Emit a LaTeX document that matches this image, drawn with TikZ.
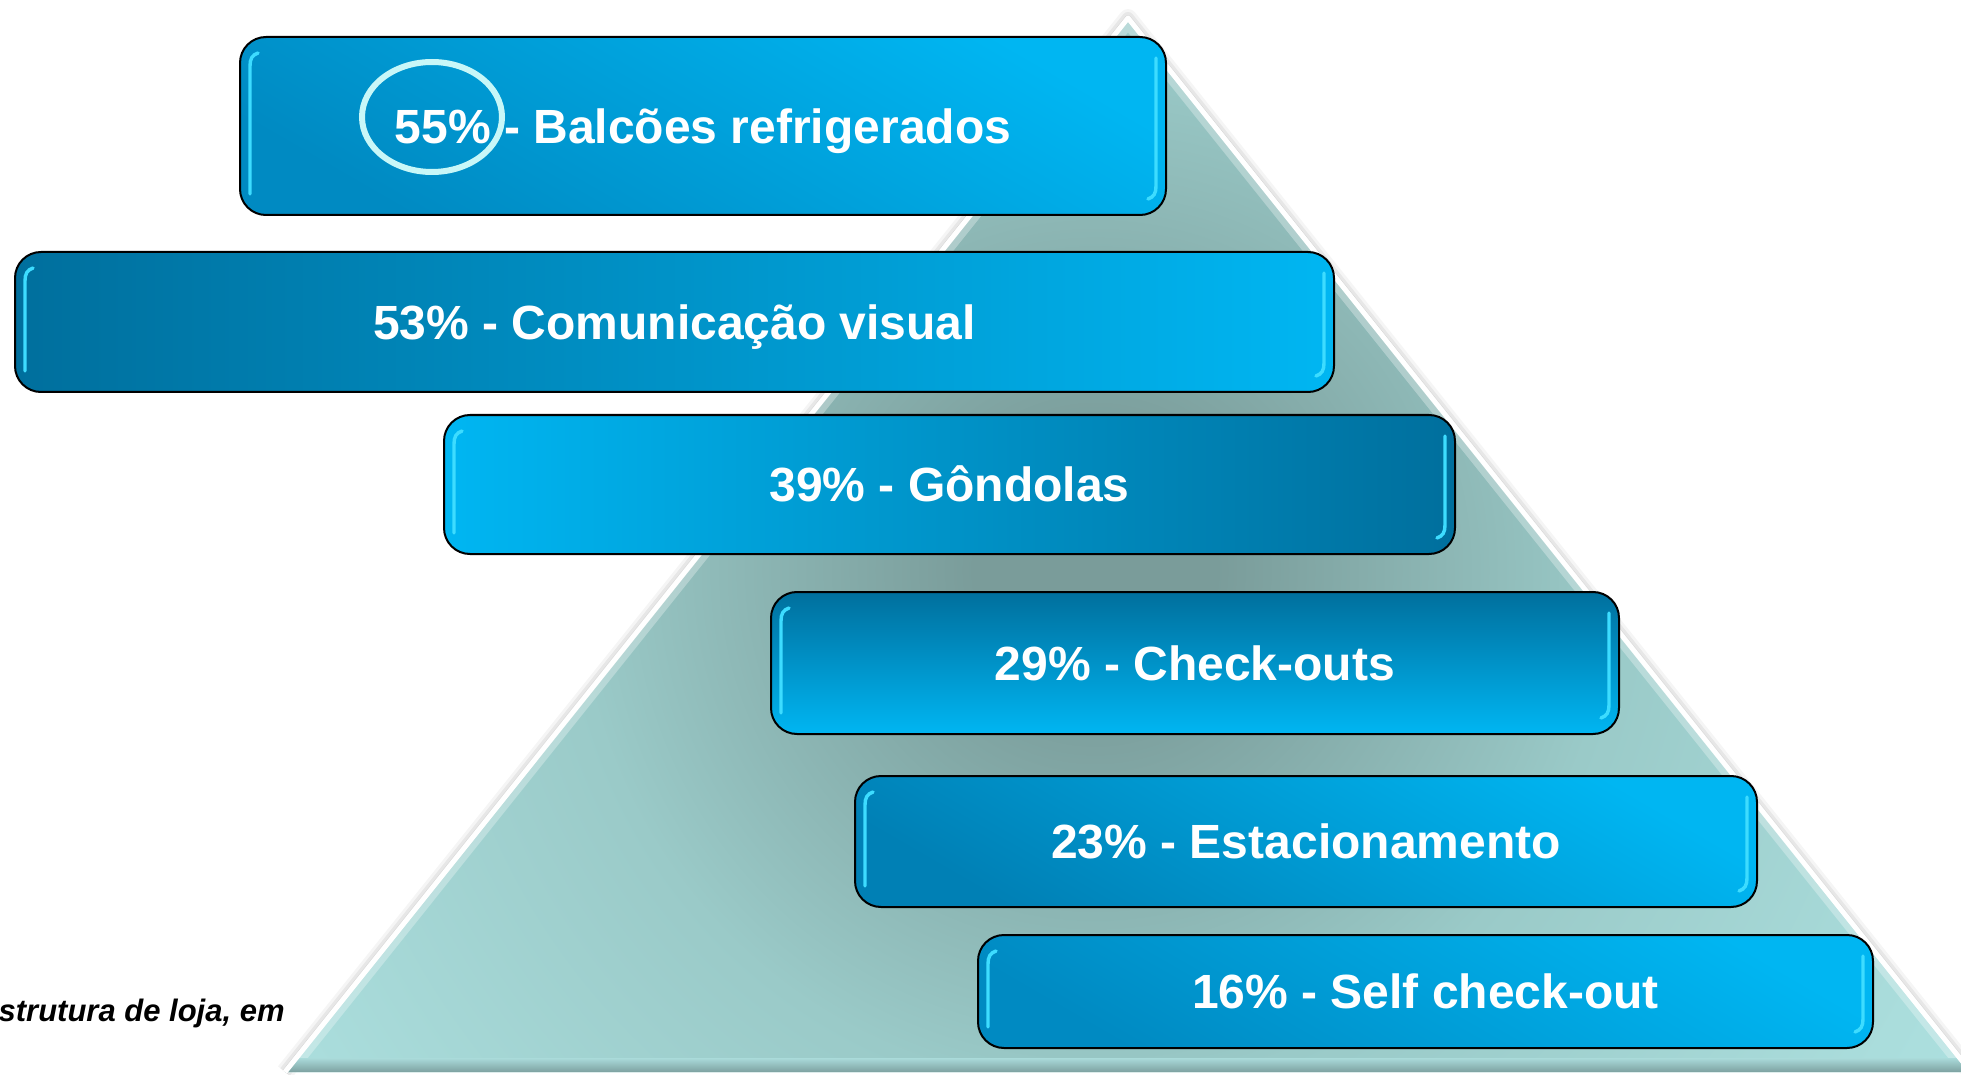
\documentclass[tikz,border=0pt]{standalone}
\usepackage{fontspec}
\setmainfont{Liberation Sans}
\usetikzlibrary{calc,shapes.geometric}
\definecolor{bbright}{HTML}{00B6F2}
\definecolor{bdark}{HTML}{006F9D}
\definecolor{bmid}{HTML}{0080B5}
\definecolor{blite}{HTML}{008AC2}
\definecolor{glowc}{HTML}{3DDCFF}
\definecolor{ringc}{HTML}{C8F7F8}
\definecolor{pyrc}{HTML}{7A9C9A}
\definecolor{pyrm}{HTML}{9ACAC8}
\definecolor{pyrn}{HTML}{AADDDC}
\definecolor{pyrl}{HTML}{B6EAEA}
\definecolor{pyre}{HTML}{BEF1F1}
\definecolor{pyrband}{HTML}{7A9D9C}
\pgfdeclareradialshading{pyr}{\pgfpoint{0bp}{0bp}}{color(0bp)=(pyrc); color(3bp)=(pyrc); color(13bp)=(pyrm); color(23bp)=(pyrn); color(35bp)=(pyrl); color(50bp)=(pyre)}
\newcommand{\boxglow}[1]{%
  \draw[glow] ($(#1.north west)+(19,17)$) .. controls ($(#1.north west)+(13,19)$) and ($(#1.north west)+(11,23)$) .. ($(#1.north west)+(11,30)$) -- ($(#1.south west)+(11,-22)$);
  \draw[glow] ($(#1.north east)+(-11,22)$) -- ($(#1.south east)+(-11,-30)$) .. controls ($(#1.south east)+(-11,-23)$) and ($(#1.south east)+(-13,-19)$) .. ($(#1.south east)+(-19,-17)$);
}
\begin{document}
\begin{tikzpicture}[x=0.5pt,y=-0.5pt,
  lvl/.style={draw=black, line width=1pt, rounded corners=13pt, inner sep=0pt,
    text=white, font=\bfseries\fontsize{24}{28}\selectfont,
    text height=22pt, text depth=4.8pt, align=center},
  glow/.style={glowc, line width=1.7pt, line cap=round},
  pyredge/.style={line join=round},
]
\useasboundingbox (0,0) rectangle (1961,1075);

% pyramid
\coordinate (apex) at (1128,18);
\coordinate (bl) at (285,1072);
\coordinate (br) at (1971,1072);

\begin{scope}[shift={(-5,4)}]
  \draw[pyredge, black, opacity=0.04, line width=9pt] (bl) -- (apex) -- (br);
  \draw[pyredge, black, opacity=0.06, line width=6pt] (bl) -- (apex) -- (br);
  \draw[pyredge, black, opacity=0.08, line width=3pt] (bl) -- (apex) -- (br);
\end{scope}

\begin{scope}
  \clip (apex) -- (br) -- (bl) -- cycle;
  \fill[pyre] (0,0) rectangle (1961,1075);
  \shade[shading=pyr] (1095,570) circle (1000);
  \draw[pyredge, white, opacity=0.3, line width=9pt] (bl) -- (apex) -- (br);
  \shade[top color=pyrl!80!pyrband, bottom color=pyrband] (0,1058) rectangle (1961,1073);
\end{scope}
\draw[pyredge, white, line width=2.5pt] (bl) -- (apex) -- (br);

% levels
\node[lvl, minimum width=463pt, minimum height=89pt, top color=bbright, bottom color=blite, shading angle=-30] (b1) at (703,126) {55\% - Balcões refrigerados};
\node[lvl, minimum width=659.5pt, minimum height=70pt, left color=bdark, right color=bbright] (b2) at (674.5,322) {53\% - Comunicação visual};
\node[lvl, minimum width=505.5pt, minimum height=69.5pt, left color=bbright, right color=bdark] (b3) at (949.5,484.5) {39\% - Gôndolas};
\node[lvl, minimum width=424pt, minimum height=71pt, top color=bdark, bottom color=bbright] (b4) at (1195,663) {29\% - Check-outs};
\node[lvl, minimum width=451pt, minimum height=65.5pt, top color=bbright, bottom color=bmid, shading angle=-30] (b5) at (1306,841.5) {23\% - Estacionamento};
\node[lvl, minimum width=447.5pt, minimum height=56.5pt, top color=bbright, bottom color=blite, shading angle=-30] (b6) at (1425.5,991.5) {16\% - Self check-out};

\boxglow{b1}
\boxglow{b2}
\boxglow{b3}
\boxglow{b4}
\boxglow{b5}
\boxglow{b6}

% highlight ring
\node[ellipse, draw=ringc, line width=3pt, minimum width=70pt, minimum height=55pt, inner sep=0pt] (ring) at (432,117) {};

% caption fragment
\node[anchor=base east, inner sep=0pt, font=\bfseries\itshape\fontsize{15.5}{18}\selectfont] (cap) at (285,1021) {strutura de loja, em};
\end{tikzpicture}
\end{document}
